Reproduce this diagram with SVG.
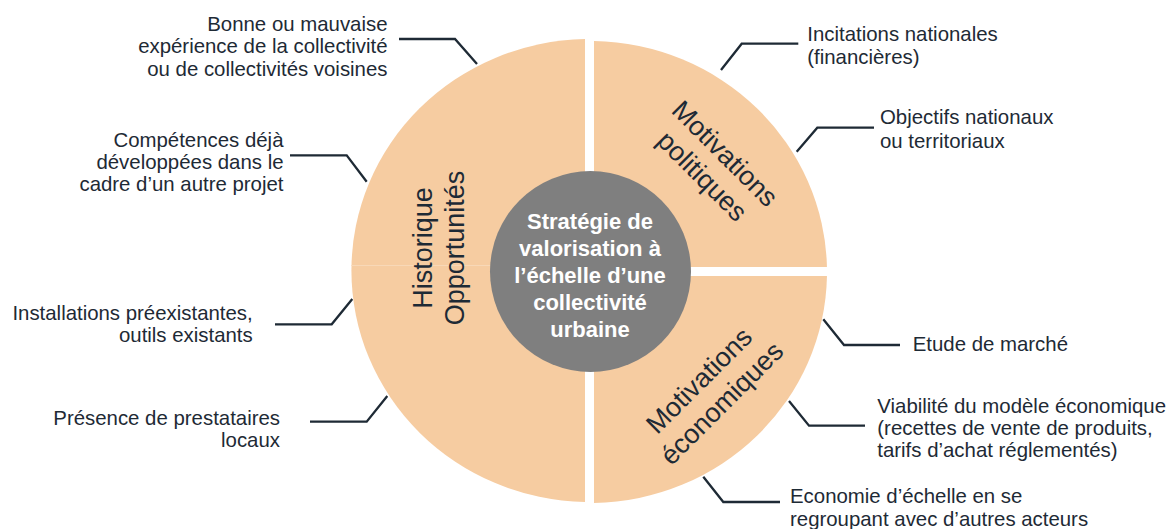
<svg xmlns="http://www.w3.org/2000/svg" width="1169" height="529" viewBox="0 0 1169 529">
  <style>
    .sector { fill: #F6CCA1; }
    .seam { stroke: #F9DBBD; stroke-width: 0.8; fill: none; }
    .core { fill: #7F7F7F; }
    .lbl { font-family: "Liberation Sans", Arial, sans-serif; font-size: 20.4px; fill: #1E2A35; }
    .sec { font-family: "Liberation Sans", Arial, sans-serif; font-size: 27px; fill: #1E2A35; text-anchor: middle; }
    .ctr { font-family: "Liberation Sans", Arial, sans-serif; font-size: 22px; font-weight: bold; fill: #FFFFFF; text-anchor: middle; }
    .end { text-anchor: end; }
    .conn { fill: none; stroke: #1E2A35; stroke-width: 2.3; stroke-linejoin: miter; }
  </style>
  <rect width="1169" height="529" fill="#FFFFFF"/>

  <g id="sector-historique">
    <path class="sector" d="M585,39.04 A238,231.5 0 0 0 585,501.96 Z"/>
    <line class="seam" x1="351" y1="265.5" x2="585" y2="265.5"/>
    <text class="sec" transform="rotate(-90)"><tspan x="-248" y="431.5">Historique</tspan><tspan x="-248" y="463.5">Opportunités</tspan></text>
  </g>

  <g id="sector-politiques">
    <path class="sector" d="M594,41.04 A237.5,231 0 0 1 826.94,267 L594,267 Z"/>
    <text class="sec" transform="translate(713.5,165) rotate(45)"><tspan x="0" y="-7">Motivations</tspan><tspan x="0" y="25">politiques</tspan></text>
  </g>

  <g id="sector-economiques">
    <path class="sector" d="M594,276 L826.96,276 A237.5,231 0 0 1 594,502.96 Z"/>
    <text class="sec" transform="translate(710.5,392) rotate(-45)"><tspan x="0" y="-7">Motivations</tspan><tspan x="0" y="25">économiques</tspan></text>
  </g>

  <g id="center">
    <circle class="core" cx="590.5" cy="271.5" r="100.5"/>
    <text class="ctr"><tspan x="590" y="229">Stratégie de</tspan><tspan x="590" y="256">valorisation à</tspan><tspan x="590" y="283">l’échelle d’une</tspan><tspan x="590" y="310">collectivité</tspan><tspan x="590" y="337">urbaine</tspan></text>
  </g>

  <g id="label-experience">
    <text class="lbl end"><tspan x="387.5" y="31">Bonne ou mauvaise</tspan><tspan x="387.5" y="53.3">expérience de la collectivité</tspan><tspan x="387.5" y="75.6">ou de collectivités voisines</tspan></text>
  </g>
  <g id="label-competences">
    <text class="lbl end"><tspan x="283.5" y="146.6">Compétences déjà</tspan><tspan x="283.5" y="168.9">développées dans le</tspan><tspan x="283.5" y="191.2">cadre d’un autre projet</tspan></text>
  </g>
  <g id="label-installations">
    <text class="lbl end"><tspan x="252.7" y="320">Installations préexistantes,</tspan><tspan x="252.7" y="342.3">outils existants</tspan></text>
  </g>
  <g id="label-prestataires">
    <text class="lbl end"><tspan x="280" y="425">Présence de prestataires</tspan><tspan x="280" y="447.3">locaux</tspan></text>
  </g>
  <g id="label-incitations">
    <text class="lbl"><tspan x="807.3" y="40.7">Incitations nationales</tspan><tspan x="807.3" y="63.5">(financières)</tspan></text>
  </g>
  <g id="label-objectifs">
    <text class="lbl"><tspan x="880" y="124.3">Objectifs nationaux</tspan><tspan x="880" y="148">ou territoriaux</tspan></text>
  </g>
  <g id="label-etude">
    <text class="lbl"><tspan x="912.7" y="351">Etude de marché</tspan></text>
  </g>
  <g id="label-viabilite">
    <text class="lbl"><tspan x="877.3" y="412.7">Viabilité du modèle économique</tspan><tspan x="877.3" y="435">(recettes de vente de produits,</tspan><tspan x="877.3" y="457.3">tarifs d’achat réglementés)</tspan></text>
  </g>
  <g id="label-economie">
    <text class="lbl"><tspan x="790" y="503.3">Economie d’échelle en se</tspan><tspan x="790" y="525.6">regroupant avec d’autres acteurs</tspan></text>
  </g>

  <g id="connectors">
    <polyline class="conn" points="399,39 455,39 477,64"/>
    <polyline class="conn" points="290,155.3 346.7,155.3 366.7,181.7"/>
    <polyline class="conn" points="275,324.3 331.7,324.3 352.3,299"/>
    <polyline class="conn" points="310,421.7 366.7,421.7 387.3,396"/>
    <polyline class="conn" points="798.3,43.7 741.7,43.7 721,70"/>
    <polyline class="conn" points="874,127.7 817.3,127.7 796.7,151.7"/>
    <polyline class="conn" points="823.3,319.3 844,345 900,345"/>
    <polyline class="conn" points="789,401 809,425.7 865,425.7"/>
    <polyline class="conn" points="703.3,476.7 723.3,502 780,502"/>
  </g>
</svg>
